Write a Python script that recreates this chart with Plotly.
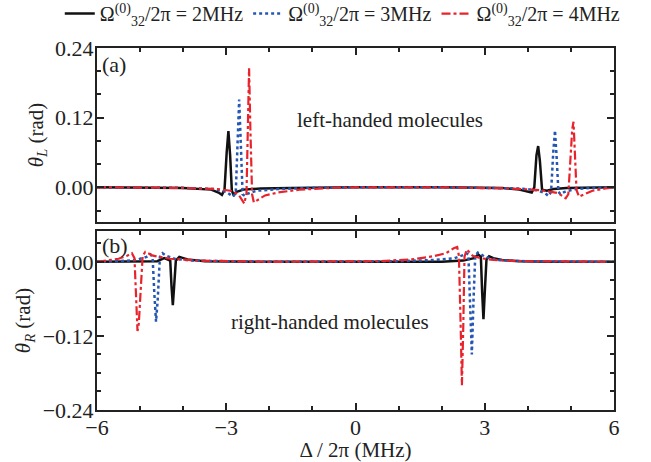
import plotly.graph_objects as go

# Detuning (MHz) and rotation angle (rad) samples for each coupling strength
# Panel (a): left-handed molecules, theta_L
x_L_2 = [-6, -4, -3.35, -3.18, -3.10, -3.04, -2.99, -2.95, -2.91, -2.87, -2.83, -2.76, -2.6, -2.2, -1.5, 0,
         2, 3.4, 3.8, 4.0, 4.09, 4.15, 4.2, 4.24, 4.28, 4.33, 4.44, 4.6, 4.9, 6]
y_L_2 = [0, -0.001, -0.004, -0.009, -0.013, -0.004, 0.06, 0.097, 0.055, -0.006, -0.013, -0.008, -0.004, -0.002, -0.001, 0,
         0, -0.001, -0.004, -0.007, -0.009, 0.0, 0.055, 0.071, 0.045, -0.004, -0.006, -0.003, -0.001, 0]

x_L_3 = [-6, -4, -3.3, -3.0, -2.9, -2.84, -2.78, -2.74, -2.70, -2.66, -2.62, -2.57, -2.5, -2.3, -1.8, -1, 0,
         2, 3.8, 4.2, 4.4, 4.48, 4.54, 4.59, 4.63, 4.67, 4.71, 4.76, 4.85, 5.1, 5.5, 6]
y_L_3 = [0, -0.001, -0.003, -0.008, -0.013, -0.016, -0.01, 0.06, 0.151, 0.07, -0.012, -0.015, -0.011, -0.006, -0.003, -0.001, 0,
         0, -0.002, -0.005, -0.01, -0.015, -0.008, 0.06, 0.098, 0.05, -0.008, -0.012, -0.008, -0.003, -0.001, 0]

x_L_4 = [-6, -4, -3.2, -2.9, -2.72, -2.64, -2.58, -2.53, -2.50, -2.47, -2.44, -2.40, -2.36, -2.28, -2.1, -1.8, -1.3, -0.5, 0,
         2, 3.6, 4.3, 4.7, 4.88, 4.94, 4.99, 5.03, 5.06, 5.09, 5.13, 5.19, 5.3, 5.5, 5.8, 6]
y_L_4 = [0, -0.001, -0.003, -0.006, -0.012, -0.02, -0.028, -0.01, 0.11, 0.205, 0.1, -0.012, -0.026, -0.022, -0.014, -0.009, -0.004, -0.001, 0,
         0, -0.002, -0.005, -0.01, -0.019, -0.012, 0.05, 0.1, 0.113, 0.07, -0.005, -0.016, -0.012, -0.006, -0.002, 0]

# Panel (b): right-handed molecules, theta_R
x_R_2 = [-6, -5, -4.6, -4.44, -4.36, -4.30, -4.27, -4.24, -4.21, -4.17, -4.09, -3.9, -3.5, -2, 0,
         2, 2.5, 2.75, 2.85, 2.91, 2.94, 2.97, 3.0, 3.04, 3.1, 3.2, 3.4, 3.8, 4.5, 6]
y_R_2 = [0, 0, 0.001, 0.006, 0.004, 0.002, -0.04, -0.07, -0.04, 0.002, 0.008, 0.004, 0.001, 0, 0,
         0, 0.002, 0.006, 0.012, 0.008, -0.05, -0.093, -0.05, 0.004, 0.009, 0.006, 0.003, 0.001, 0, 0]

x_R_3 = [-6, -5.5, -5.1, -4.85, -4.76, -4.71, -4.67, -4.63, -4.59, -4.54, -4.48, -4.4, -4.2, -3.8, -2, 0,
         1, 1.8, 2.3, 2.5, 2.57, 2.62, 2.66, 2.70, 2.74, 2.78, 2.84, 2.9, 3.0, 3.3, 4, 6]
y_R_3 = [0, 0.001, 0.003, 0.008, 0.012, 0.008, -0.05, -0.097, -0.06, 0.008, 0.014, 0.01, 0.005, 0.002, 0, 0,
         0.001, 0.003, 0.006, 0.011, 0.014, 0.012, -0.07, -0.15, -0.06, 0.01, 0.015, 0.013, 0.008, 0.003, 0.001, 0]

x_R_4 = [-6, -5.8, -5.5, -5.3, -5.19, -5.13, -5.09, -5.06, -5.03, -4.99, -4.94, -4.88, -4.7, -4.3, -3.6, -2, 0,
         0.5, 1.3, 1.8, 2.1, 2.28, 2.36, 2.40, 2.44, 2.47, 2.50, 2.53, 2.58, 2.64, 2.72, 2.9, 3.2, 4, 6]
y_R_4 = [0, 0.002, 0.005, 0.01, 0.014, 0.006, -0.07, -0.112, -0.1, -0.05, 0.01, 0.016, 0.01, 0.005, 0.002, 0, 0,
         0.001, 0.004, 0.009, 0.014, 0.022, 0.024, 0.01, -0.1, -0.2, -0.11, 0.008, 0.02, 0.016, 0.01, 0.006, 0.003, 0.001, 0]

legend_names = ["Ω<sup>(0)</sup><sub>32</sub>/2π = 2MHz",
                "Ω<sup>(0)</sup><sub>32</sub>/2π = 3MHz",
                "Ω<sup>(0)</sup><sub>32</sub>/2π = 4MHz"]
colors = ["#111111", "#2457b3", "#e8232b"]
dashes = ["solid", "dot", "dashdot"]
widths = [2.5, 2.5, 2.2]

x_ticks = [-6, -3, 0, 3, 6]
yL_ticks = [0.00, 0.12, 0.24]
yR_ticks = [-0.24, -0.12, 0.00]

FONT = "Liberation Serif"
AX = "#222222"

fig = go.Figure()

panel_a = [(x_L_2, y_L_2), (x_L_3, y_L_3), (x_L_4, y_L_4)]
panel_b = [(x_R_2, y_R_2), (x_R_3, y_R_3), (x_R_4, y_R_4)]

for i, (xs, ys) in enumerate(panel_a):
    fig.add_trace(go.Scatter(x=xs, y=ys, mode="lines", name=legend_names[i],
                             line=dict(color=colors[i], dash=dashes[i], width=widths[i]),
                             xaxis="x2", yaxis="y2", legendrank=i + 1))
for i, (xs, ys) in enumerate(panel_b):
    fig.add_trace(go.Scatter(x=xs, y=ys, mode="lines", name=legend_names[i], showlegend=False,
                             line=dict(color=colors[i], dash=dashes[i], width=widths[i]),
                             xaxis="x", yaxis="y"))

common_x = dict(range=[-6, 6], tickvals=x_ticks, ticks="inside", ticklen=7, tickwidth=1.5,
                tickcolor=AX, showline=True, linecolor=AX, linewidth=2, mirror="allticks",
                showgrid=False, zeroline=False,
                minor=dict(dtick=1, tick0=0, ticks="inside", ticklen=4, tickcolor=AX, tickwidth=1.5))
common_y = dict(ticks="inside", ticklen=7, tickwidth=1.5, tickcolor=AX, showline=True,
                linecolor=AX, linewidth=2, mirror="allticks", showgrid=False, zeroline=False,
                tickformat=".2f", ticklabelstandoff=-3)

fig.update_layout(
    width=651, height=462,
    margin=dict(l=97, r=37, t=48, b=52, autoexpand=False),
    paper_bgcolor="white", plot_bgcolor="white",
    font=dict(family=FONT, size=21, color="#222222"),
    xaxis=dict(**common_x, anchor="y", tickfont=dict(size=22), ticklabelstandoff=-3,
               title=dict(text="Δ / 2π (MHz)", font=dict(size=21), standoff=3)),
    xaxis2=dict(**common_x, anchor="y2", matches="x", showticklabels=False),
    yaxis=dict(**common_y, domain=[0, 0.4945], range=[-0.24, 0.05], tickvals=yR_ticks,
               tickfont=dict(size=22),
               minor=dict(dtick=0.03, tick0=0, ticks="inside", ticklen=4, tickcolor=AX, tickwidth=1.5),
               title=dict(text="<i>θ</i><sub><i>R</i></sub> (rad)", font=dict(size=21), standoff=6)),
    yaxis2=dict(**common_y, domain=[0.519, 1], range=[-0.06, 0.24], tickvals=yL_ticks,
                tickfont=dict(size=22),
                minor=dict(dtick=0.04, tick0=0, ticks="inside", ticklen=4, tickcolor=AX, tickwidth=1.5),
                title=dict(text="<i>θ</i><sub><i>L</i></sub> (rad)", font=dict(size=21), standoff=6)),
    legend=dict(orientation="h", x=-0.072, y=1.095, xanchor="left", yanchor="middle",
                font=dict(size=20, family=FONT), bgcolor="rgba(0,0,0,0)",
                itemwidth=30, tracegroupgap=0),
    showlegend=True,
)

fig.add_annotation(text="(a)", xref="paper", yref="paper", x=0.006, y=0.955,
                   xanchor="left", yanchor="middle", showarrow=False, font=dict(size=22))
fig.add_annotation(text="(b)", xref="paper", yref="paper", x=0.006, y=0.455,
                   xanchor="left", yanchor="middle", showarrow=False, font=dict(size=22))
fig.add_annotation(text="left-handed molecules", xref="paper", yref="paper", x=0.567, y=0.801,
                   xanchor="center", yanchor="middle", showarrow=False, font=dict(size=21))
fig.add_annotation(text="right-handed molecules", xref="paper", yref="paper", x=0.451, y=0.243,
                   xanchor="center", yanchor="middle", showarrow=False, font=dict(size=21))

fig.write_html("out.html")
